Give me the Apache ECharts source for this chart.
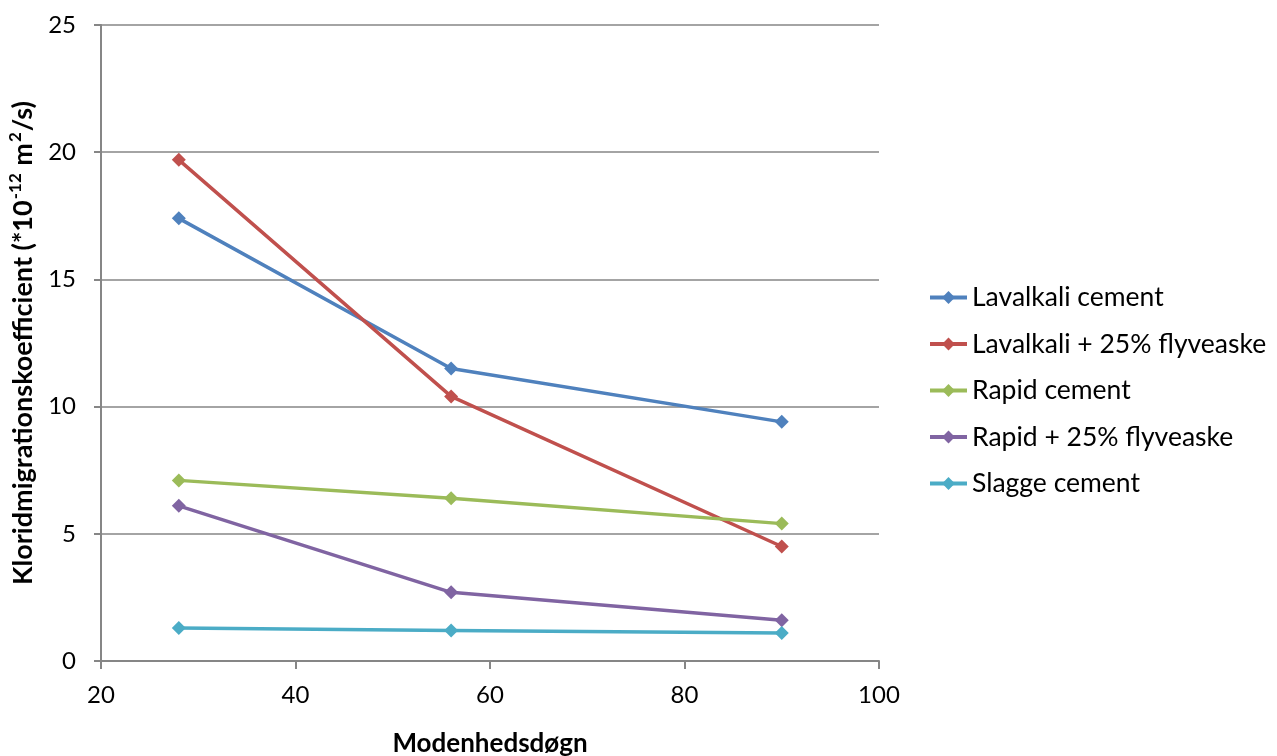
<!DOCTYPE html>
<html>
<head>
<meta charset="utf-8">
<script src="https://cdn.jsdelivr.net/npm/echarts@6/dist/echarts.min.js"></script>
<style>
  html, body { margin: 0; padding: 0; background: #fff; }
  #chart { width: 1277px; height: 756px; }
</style>
</head>
<body>
<div id="chart"></div>
<script>
const days = [28, 56, 90];
const seriesNames = [
  "Lavalkali cement",
  "Lavalkali + 25% flyveaske",
  "Rapid cement",
  "Rapid + 25% flyveaske",
  "Slagge cement"
];
const lavalkali = [17.4, 11.5, 9.4];
const lavalkaliFly = [19.7, 10.4, 4.5];
const rapid = [7.1, 6.4, 5.4];
const rapidFly = [6.1, 2.7, 1.6];
const slagge = [1.3, 1.2, 1.1];
const colors = ["#4f81bd", "#c0504d", "#9bbb59", "#8064a2", "#4bacc6"];

(function () {
  const myChart = echarts.init(document.getElementById("chart"));
  const font = "Lato, 'Liberation Sans', sans-serif";
  const allValues = [lavalkali, lavalkaliFly, rapid, rapidFly, slagge];

  const series = allValues.map(function (vals, i) {
    return {
      name: seriesNames[i],
      type: "line",
      data: vals.map(function (v, j) { return [days[j], v]; }),
      symbol: "diamond",
      symbolSize: 14,
      lineStyle: { width: 3.5, color: colors[i] },
      itemStyle: { color: colors[i] },
      emphasis: { disabled: true }
    };
  });

  const option = {
    animation: false,
    color: colors,
    textStyle: { fontFamily: font },
    grid: { left: 101, right: 398, top: 25, bottom: 95, outerBoundsMode: "none", containLabel: false },
    legend: {
      orient: "vertical",
      left: 923,
      top: 279,
      itemWidth: 37,
      itemHeight: 16,
      itemGap: 19.5,
      lineStyle: { width: 4 },
      textStyle: { fontSize: 26.5, color: "#000", fontFamily: font },
      data: seriesNames
    },
    xAxis: {
      type: "value",
      min: 20,
      max: 100,
      interval: 20,
      name: "Modenhedsdøgn",
      nameLocation: "middle",
      nameGap: 70,
      nameTextStyle: { fontSize: 26, fontWeight: "bold", color: "#000" },
      axisLine: { lineStyle: { color: "#868686", width: 2 } },
      axisTick: { show: true, length: 8, lineStyle: { color: "#868686", width: 2 } },
      axisLabel: { fontSize: 24, color: "#000", margin: 22 },
      splitLine: { show: false }
    },
    yAxis: {
      type: "value",
      min: 0,
      max: 25,
      interval: 5,
      name: "{b|Kloridmigrationskoefficient (*10}{s|-12}{b| m}{s|2}{b|/s)}",
      nameLocation: "middle",
      nameGap: 64,
      nameTextStyle: {
        rich: {
          b: { fontSize: 27, fontWeight: "bold", color: "#000", fontFamily: font, lineHeight: 30, verticalAlign: "bottom" },
          s: { fontSize: 17, fontWeight: "bold", color: "#000", fontFamily: font, lineHeight: 30, verticalAlign: "top", padding: [0, 1, 0, 1] }
        }
      },
      axisLine: { show: true, lineStyle: { color: "#868686", width: 2 } },
      axisTick: { show: true, length: 7, lineStyle: { color: "#868686", width: 2 } },
      axisLabel: { fontSize: 24, color: "#000", margin: 25 },
      splitLine: { show: true, lineStyle: { color: "#868686", width: 1.5 } }
    },
    series: series
  };

  myChart.setOption(option);
  window.addEventListener("resize", function () {
    myChart.resize();
  });
})();
</script>
</body>
</html>
